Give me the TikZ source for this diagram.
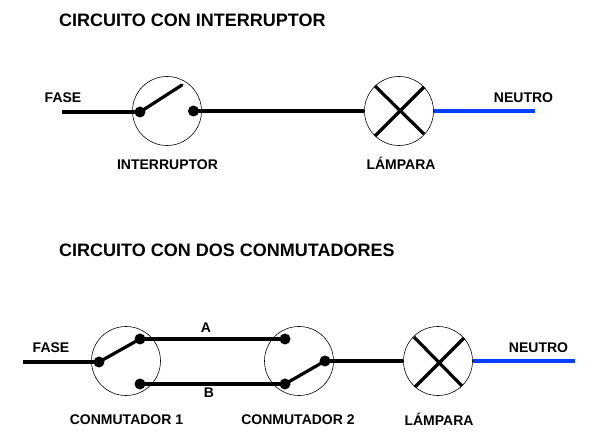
\documentclass[tikz,border=0pt]{standalone}
\usepackage{fontspec}
\setmainfont{Liberation Sans}
\tikzset{
  x=1pt,y=-1pt,
  wire/.style={line width=3.2pt,black},
  neutral/.style={line width=3.2pt,color=neutroblue},
  lever/.style={line width=3.2pt,black,line cap=round},
  lampcross/.style={line width=3.2pt,black},
  dial/.style={circle,draw=black,line width=0.6pt,minimum size=69pt,inner sep=0pt,fill=white},
  contact/.style={circle,fill=black,minimum size=11pt,inner sep=0pt},
  title/.style={font=\bfseries\fontsize{18}{20}\selectfont,anchor=west,inner sep=0pt},
  label/.style={font=\bfseries\fontsize{14}{16}\selectfont,inner sep=0pt},
}
\definecolor{neutroblue}{RGB}{0,64,255}
\begin{document}
\begin{tikzpicture}
\useasboundingbox (0,0) rectangle (600,446);
% --- Top circuit ---
\node[title] (t1) at (59,20) {CIRCUITO CON INTERRUPTOR};
\node[dial] (sw) at (167,111) {};
\node[dial] (lamp1) at (399,111) {};
\coordinate (f1) at (62,112);
\coordinate (n1) at (535,111);
\coordinate (arm1) at (182,85);
\node[contact] (s1a) at (140,112) {};
\node[contact] (s1b) at (193.5,111) {};
\draw[wire] (f1) -- (s1a.center);
\draw[lever] (s1a.center) -- (arm1);
\draw[wire] (s1b.center) -- (lamp1.west);
\draw[neutral] (lamp1.east) -- (n1);
\coordinate (l1a) at (375,86); \coordinate (l1b) at (424,134);
\coordinate (l1c) at (424,87); \coordinate (l1d) at (375,136);
\draw[lampcross] (l1a) -- (l1b);
\draw[lampcross] (l1c) -- (l1d);
\node[label] (lf1) at (63,98) {FASE};
\node[label] (ln1) at (523.5,98) {NEUTRO};
\node[label] (li) at (167.5,165) {INTERRUPTOR};
\node[label,anchor=base] (ll1) at (401,170) {LÁMPARA};
% --- Bottom circuit ---
\node[title] (t2) at (59,250) {CIRCUITO CON DOS CONMUTADORES};
\node[dial] (c1) at (126,361) {};
\node[dial] (c2) at (299,361) {};
\node[dial] (lamp2) at (438,361) {};
\coordinate (f2) at (23,362);
\coordinate (n2) at (575,361);
\node[contact] (c1c) at (99,362) {};
\node[contact] (c1a) at (140,339) {};
\node[contact] (c1b) at (140,384) {};
\node[contact] (c2a) at (285,339) {};
\node[contact] (c2b) at (285,384) {};
\node[contact] (c2c) at (325,361) {};
\draw[wire] (f2) -- (c1c.center);
\draw[lever] (c1c.center) -- (c1a.center);
\draw[wire] (c1a.center) -- (c2a.center);
\draw[wire] (c1b.center) -- (c2b.center);
\draw[lever] (c2b.center) -- (c2c.center);
\draw[wire] (c2c.center) -- (lamp2.west);
\draw[neutral] (lamp2.east) -- (n2);
\coordinate (l2a) at (414,337); \coordinate (l2b) at (462,386);
\coordinate (l2c) at (464,338); \coordinate (l2d) at (415,387);
\draw[lampcross] (l2a) -- (l2b);
\draw[lampcross] (l2c) -- (l2d);
\node[label] (lf2) at (51,348) {FASE};
\node[label] (ln2) at (538.5,348) {NEUTRO};
\node[label] (la) at (206,328) {A};
\node[label] (lb) at (209,393) {B};
\node[label] (lc1) at (126.5,420) {CONMUTADOR 1};
\node[label] (lc2) at (298,420) {CONMUTADOR 2};
\node[label,anchor=base] (ll2) at (439,425) {LÁMPARA};
\end{tikzpicture}
\end{document}
